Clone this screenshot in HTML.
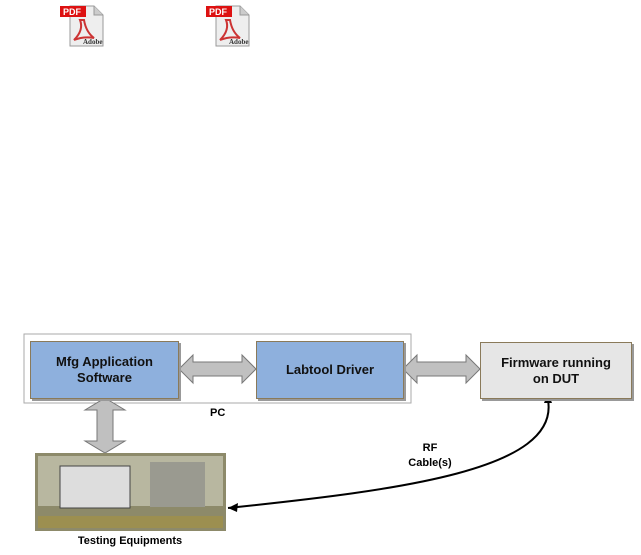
<!DOCTYPE html>
<html><head><style>
body{margin:0;width:641px;height:555px;background:#fff;position:relative;overflow:hidden;font-family:"Liberation Sans",sans-serif;font-weight:bold}
.a{position:absolute}
.box{position:absolute;border:1px solid #8a7a5a;box-shadow:2px 2px 0 #999;display:flex;align-items:center;justify-content:center;text-align:center;font-size:13px;line-height:16px;color:#111}
</style></head><body>
<svg class="a" style="left:0;top:0" width="641" height="555">
 <g id="pdf">
  <path d="M70 6 h24 l9 9 v31 h-33z" fill="#eee" stroke="#999"/>
  <path d="M94 6 v9 h9" fill="#ccc" stroke="#999"/>
  <path d="M80 20 q4 10 -6 20 q10 -4 20 -2 q-8 -6 -10 -18z" fill="none" stroke="#c33" stroke-width="2"/>
  <rect x="60" y="6" width="26" height="11" fill="#d11"/>
  <text x="63" y="15" font-size="9" fill="#fff" font-family="Liberation Sans">PDF</text>
  <text x="83" y="44" font-size="7" fill="#333" font-family="Liberation Serif">Adobe</text>
 </g>
 <use href="#pdf" x="146"/>
 <rect x="24" y="334" width="387" height="69" fill="none" stroke="#aaa"/>
 <polygon points="179,369 193,355 193,362 242,362 242,355 256,369 242,383 242,376 193,376 193,383" fill="#c0c0c0" stroke="#777"/>
 <polygon points="403,369 417,355 417,362 466,362 466,355 480,369 466,383 466,376 417,376 417,383" fill="#c0c0c0" stroke="#777"/>
 <polygon points="105,398 125,410 113,410 113,441 125,441 105,453 85,441 97,441 97,410 85,410" fill="#c0c0c0" stroke="#777"/>
 <rect x="35" y="453" width="191" height="78" fill="#8d8a6a"/>
 <rect x="38" y="456" width="185" height="50" fill="#b8b7a0"/>
 <rect x="60" y="466" width="70" height="42" fill="#ddd" stroke="#444"/>
 <rect x="150" y="462" width="55" height="45" fill="#9a9a90"/>
 <rect x="38" y="516" width="185" height="12" fill="#9c8f50"/>
 <path d="M548 400 C 560 470, 400 490, 228 508" fill="none" stroke="#000" stroke-width="2"/>
 <polygon points="228,508 238,503 237,512" fill="#000"/>
 <polygon points="548,393 544,403 552,403" fill="#000"/>
</svg>
<div class="box" style="left:30px;top:341px;width:147px;height:56px;background:#8eb0dd">Mfg Application<br>Software</div>
<div class="box" style="left:256px;top:341px;width:146px;height:56px;background:#8eb0dd">Labtool Driver</div>
<div class="box" style="left:480px;top:342px;width:150px;height:55px;background:#e6e6e6">Firmware running<br>on DUT</div>
<div class="a" style="left:210px;top:407px;font-size:11px">PC</div>
<div class="a" style="left:400px;top:441px;width:60px;text-align:center;font-size:11px;line-height:15px">RF<br>Cable(s)</div>
<div class="a" style="left:50px;top:535px;width:160px;text-align:center;font-size:11px">Testing Equipments</div>
</body></html>
